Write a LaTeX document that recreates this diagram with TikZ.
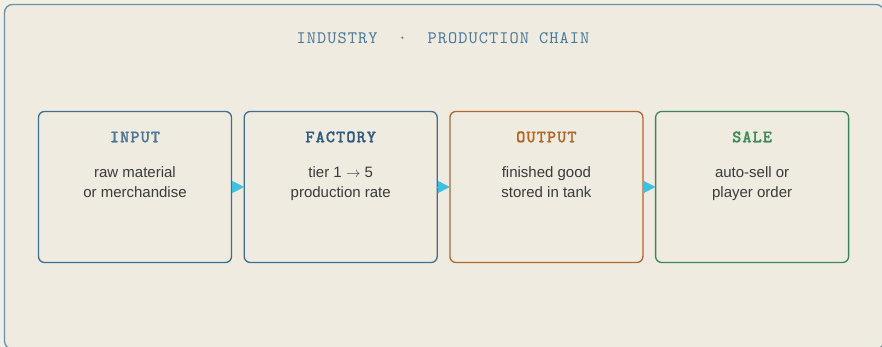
\documentclass[tikz,border=0pt]{standalone}
\usepackage{fontspec}
\setmainfont{Liberation Sans}
\newfontfamily\monof{lmmono10-regular}[Extension=.otf, LetterSpace=6, BoldFont=lmmonolt10-bold, BoldFeatures={FakeBold=0.8}]
\usetikzlibrary{arrows.meta}
\definecolor{pagebg}{HTML}{F2EFE7}
\definecolor{panelbg}{HTML}{EFEBE0}
\definecolor{framec}{HTML}{6A90A8}
\definecolor{titlec}{HTML}{4A7898}
\definecolor{bluec}{HTML}{3E6E90}
\definecolor{inputh}{HTML}{4A7898}
\definecolor{factoryh}{HTML}{2C5A80}
\definecolor{orangec}{HTML}{B0672A}
\definecolor{greenc}{HTML}{3E8456}
\definecolor{greenh}{HTML}{3E8A58}
\definecolor{bodyc}{HTML}{3A3A3A}
\definecolor{arrc}{HTML}{3EC1E0}
\begin{document}
\begin{tikzpicture}[x=1pt,y=-1pt,
  box/.style={draw, line width=1.3pt, rounded corners=6pt, minimum width=193pt,
    minimum height=151pt, inner sep=0pt, outer sep=0pt, anchor=north west},
  hdr/.style={font=\monof\bfseries\fontsize{17.5}{19}\selectfont, anchor=base},
  bodytxt/.style={font=\fontsize{15}{20.5}\selectfont, text=bodyc, align=center, anchor=base},
  arr/.style={draw=arrc, line width=0.6pt, -{Triangle[length=12pt,width=12pt]}}]
\useasboundingbox (0,0) rectangle (882,347);
\clip (0,0) rectangle (882,347);
\fill[pagebg] (0,0) rectangle (882,347);
\draw[framec, fill=panelbg, line width=1.3pt, rounded corners=8pt] (4.5,4.5) rectangle (884,349);
\node[font=\monof\fontsize{17.5}{19}\selectfont, text=titlec, anchor=base] (title) at (443,43.5) {INDUSTRY\ \ ·\ \ PRODUCTION CHAIN};
% boxes
\node[box, draw=bluec] (input) at (38.5,111.5) {};
\node[box, draw=bluec] (factory) at (244.2,111.5) {};
\node[box, draw=orangec] (output) at (449.9,111.5) {};
\node[box, draw=greenc] (sale) at (655.6,111.5) {};
% headers
\node[hdr, text=inputh] (inputh) at (135,142.3) {INPUT};
\node[hdr, text=factoryh] (factoryh) at (340.7,142.3) {FACTORY};
\node[hdr, text=orangec] (outputh) at (546.4,142.3) {OUTPUT};
\node[hdr, text=greenh] (saleh) at (752.1,142.3) {SALE};
% bodies (anchor = baseline of last line)
\node[bodytxt] (inputb) at (135,197.5) {raw material\\or merchandise};
\node[bodytxt] (factoryb) at (340.7,197.5) {tier 1 $\rightarrow$ 5\\production rate};
\node[bodytxt] (outputb) at (546.4,197.5) {finished good\\stored in tank};
\node[bodytxt] (saleb) at (752.1,197.5) {auto-sell or\\player order};
% arrows
\draw[arr] (input.east) -- (factory.west);
\draw[arr] (factory.east) -- (output.west);
\draw[arr] (output.east) -- (sale.west);
\end{tikzpicture}
\end{document}
